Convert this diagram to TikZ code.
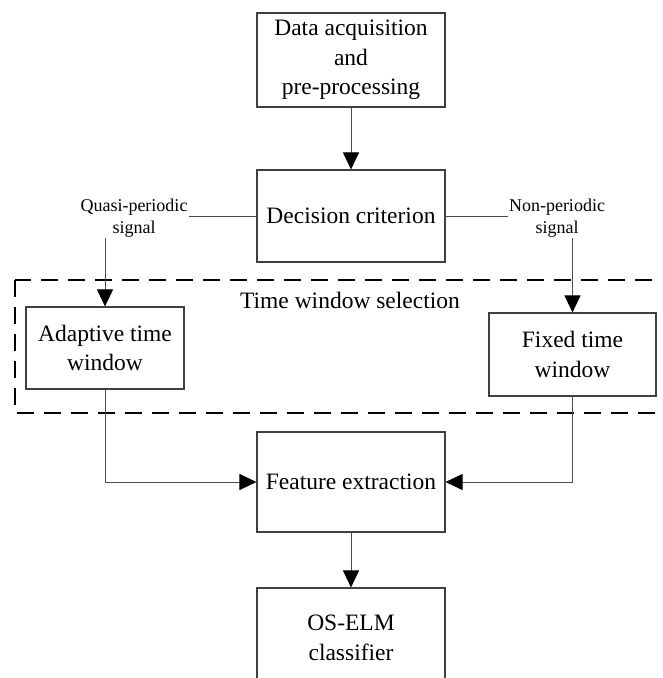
\documentclass[tikz,border=0pt]{standalone}
\usepackage{fontspec}
\setmainfont{Liberation Serif}
\usepackage{tikz}
\usetikzlibrary{positioning,arrows.meta,calc}

\begin{document}
\begin{tikzpicture}[x=1pt, y=1pt,
      box/.style={draw=black!75, line width=1.1pt, align=center, inner sep=2pt,
        font=\fontsize{23.5}{29.5}\selectfont},
      lbl/.style={align=center, inner sep=1pt, font=\fontsize{18}{21.5}\selectfont},
      line/.style={draw=black!70, line width=1pt},
      >={Triangle[length=17pt, width=16pt, color=black]},
      node distance=156pt, on grid
  ]
    \useasboundingbox (0,0) rectangle (662,-678);
    \clip (0,0) rectangle (662,-678);
    \node[box, minimum width=188pt, minimum height=94pt] (acq) at (351,-60) {Data acquisition\\and\\pre-processing};
    \node[box, minimum width=188pt, minimum height=92pt] (dec) [below=of acq] {Decision criterion};
    \node[box, minimum width=188pt, minimum height=100pt] (feat) [below=266pt of dec] {Feature extraction};
    \node[box, minimum width=188pt, minimum height=100pt] (cls) [below=of feat] {OS-ELM\\classifier};
    \node[box, minimum width=158pt, minimum height=82pt] (adapt) at (105,-348) {Adaptive time\\window};
    \node[box, minimum width=167pt, minimum height=83pt] (fixed) at (572.5,-354.5) {Fixed time\\window};
    \node[box, draw=none] (sel) at (350,-300) {Time window selection};
    \node[lbl] (quasi) at (134,-218) {Quasi-periodic\\signal};
    \node[lbl] (nonp) at (557,-218) {Non-periodic\\signal};
    \draw[black, line width=2.6pt, dash pattern=on 17pt off 10pt] (15,-280) rectangle (700,-413);
    \path[every edge/.append style=line]
    (dec.west) edge (dec.west -| quasi.east)
    (dec.east) edge (dec.east -| nonp.west)
    (adapt.south) edge[to path={|- (\tikztotarget)}] ($(feat.west)+(-15,0)$)
    (fixed.south) edge[to path={|- (\tikztotarget)}] ($(feat.east)+(15,0)$)
          ;
    \path[->, every edge/.append style=line]
    (acq) edge (dec)
    (quasi.south -| adapt.north) edge (adapt.north)
    (nonp.south -| fixed.north) edge (fixed.north)
    ($(feat.west)+(-16,0)$) edge (feat.west)
    ($(feat.east)+(16,0)$) edge (feat.east)
    (feat) edge (cls)
          ;
  \end{tikzpicture}
\end{document}
